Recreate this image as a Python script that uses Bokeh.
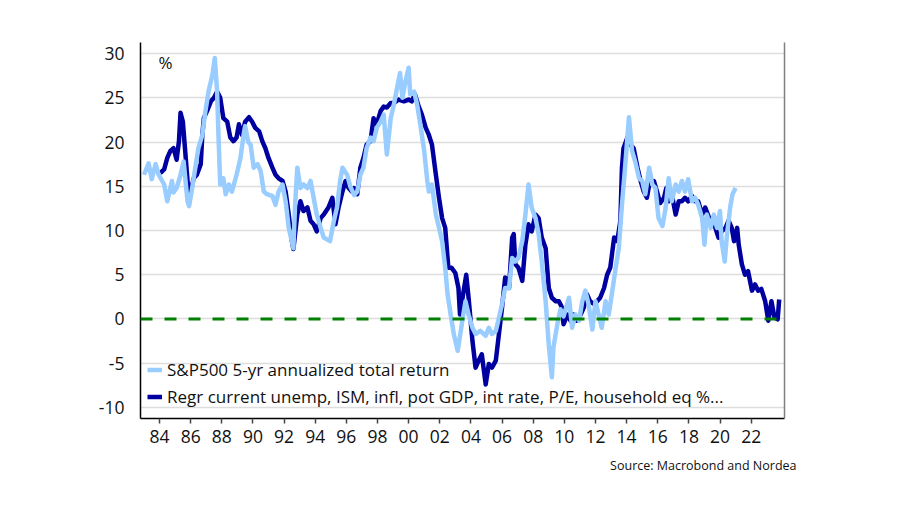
from bokeh.plotting import figure
from bokeh.models import (Range1d, FixedTicker, Span, Label, Legend, LegendItem,
                          LinearAxis, ColumnDataSource, Title)
from bokeh.embed import file_html
from bokeh.resources import INLINE

# ---------------- data ----------------
sp_x = [1983.0, 1983.3, 1983.5, 1983.75, 1983.95, 1984.3, 1984.5, 1984.8, 1984.9, 1985.1,
        1985.35, 1985.55, 1985.8, 1985.9, 1986.1, 1986.3, 1986.5, 1986.75, 1986.95, 1987.15,
        1987.4, 1987.55, 1987.7, 1987.8, 1987.9, 1988.1, 1988.25, 1988.45, 1988.65, 1988.95,
        1989.2, 1989.4, 1989.5, 1989.7, 1989.85, 1990.05, 1990.3, 1990.5, 1990.7, 1990.9,
        1991.25, 1991.45, 1991.65, 1991.9, 1992.1, 1992.3, 1992.6, 1992.7, 1992.85, 1993.05,
        1993.25, 1993.5, 1993.7, 1993.9, 1994.1, 1994.35, 1994.55, 1994.75, 1994.95, 1995.2,
        1995.4, 1995.6, 1995.75, 1996.05, 1996.25, 1996.5, 1996.7, 1996.9, 1997.1, 1997.3,
        1997.55, 1997.75, 1997.95, 1998.2, 1998.4, 1998.6, 1998.85, 1999.05, 1999.3, 1999.45,
        1999.6, 1999.8, 2000.0, 2000.1, 2000.35, 2000.55, 2000.75, 2001.0, 2001.2, 2001.3,
        2001.5, 2001.75, 2001.95, 2002.15, 2002.35, 2002.5, 2002.7, 2002.9, 2003.15, 2003.45,
        2003.65, 2003.85, 2004.1, 2004.3, 2004.6, 2004.95, 2005.15, 2005.35, 2005.6, 2005.8,
        2006.0, 2006.2, 2006.45, 2006.65, 2006.85, 2007.05, 2007.3, 2007.5, 2007.7, 2007.9,
        2008.15, 2008.35, 2008.55, 2008.8, 2009.0, 2009.2, 2009.3, 2009.55, 2009.75, 2009.95,
        2010.3, 2010.5, 2010.7, 2010.95, 2011.15, 2011.35, 2011.55, 2011.8, 2012.0, 2012.2,
        2012.4, 2012.65, 2012.85, 2013.05, 2013.3, 2013.5, 2013.7, 2013.9, 2014.15, 2014.35,
        2014.55, 2014.8, 2015.0, 2015.2, 2015.45, 2015.65, 2015.85, 2016.05, 2016.3, 2016.5,
        2016.7, 2016.9, 2017.15, 2017.35, 2017.55, 2017.75, 2017.95, 2018.2, 2018.4, 2018.6,
        2018.85, 2019.0, 2019.15, 2019.4, 2019.6, 2019.8, 2020.0, 2020.1, 2020.3, 2020.45,
        2020.65, 2020.8, 2021.0]
sp_y = [16.3, 17.6, 15.8, 17.5, 16.3, 15.2, 13.3, 15.6, 14.3, 14.8,
        16.3, 17.8, 13.3, 12.75, 14.8, 17.1, 19.3, 20.8, 23.5, 25.7,
        27.6, 29.5, 25.7, 20.1, 15.2, 15.9, 14.1, 15.2, 14.4, 16.3,
        18.2, 20.8, 21.8, 20.0, 19.7, 17.1, 17.5, 16.7, 14.4, 14.1,
        13.9, 12.9, 14.4, 15.2, 13.3, 10.3, 8.0, 12.6, 17.1, 14.8,
        15.2, 14.8, 15.6, 13.7, 11.8, 10.3, 9.2, 9.0, 8.8, 11.1,
        12.6, 15.6, 17.1, 16.3, 15.0, 14.0, 14.4, 16.3, 17.1, 19.3,
        20.5, 20.1, 21.6, 22.3, 23.1, 18.6, 22.7, 24.2, 26.5, 27.8,
        25.0, 26.9, 28.4, 25.4, 25.7, 24.2, 22.0, 19.0, 15.6, 14.4,
        15.2, 11.8, 10.3, 8.8, 5.8, 2.8, 0.5, -1.7, -3.6, -0.2,
        2.0, 0.5, -1.0, -1.7, -1.35, -1.9, -1.0, -1.7, -1.35, 0.15,
        1.7, 3.5, 3.5, 6.9, 6.5, 6.9, 8.8, 11.8, 15.2, 12.6,
        11.4, 9.6, 6.5, 2.0, -2.9, -6.6, -3.2, -0.6, 1.1, 0.3,
        2.4, -1.0, 0.5, -0.2, 2.0, 3.2, 1.7, -1.2, 2.0, 0.5,
        -1.0, 2.0, 0.5, 2.8, 5.8, 8.0, 12.9, 17.1, 22.8, 19.0,
        17.8, 15.9, 15.6, 14.1, 17.1, 15.2, 14.8, 11.4, 10.5, 12.5,
        15.9, 13.3, 15.2, 14.4, 15.6, 14.4, 15.8, 13.3, 13.7, 12.9,
        11.4, 8.4, 11.8, 10.3, 11.8, 10.3, 12.2, 8.8, 6.5, 9.6,
        12.6, 14.1, 14.8]

regr_x = [1984.05, 1984.3, 1984.5, 1984.7, 1984.9, 1985.1, 1985.25, 1985.35, 1985.5, 1985.65,
          1985.8, 1985.9, 1986.1, 1986.2, 1986.4, 1986.65, 1986.75, 1986.85, 1987.05, 1987.3,
          1987.5, 1987.7, 1987.9, 1988.1, 1988.35, 1988.55, 1988.75, 1988.95, 1989.1, 1989.3,
          1989.5, 1989.75, 1989.95, 1990.15, 1990.4, 1990.6, 1990.8, 1991.0, 1991.25, 1991.45,
          1991.65, 1991.9, 1992.1, 1992.3, 1992.5, 1992.6, 1992.85, 1993.05, 1993.25, 1993.5,
          1993.7, 1993.9, 1994.1, 1994.35, 1994.55, 1994.85, 1995.1, 1995.3, 1995.5, 1995.75,
          1995.95, 1996.15, 1996.35, 1996.5, 1996.7, 1996.9, 1997.1, 1997.3, 1997.55, 1997.75,
          1997.95, 1998.2, 1998.4, 1998.6, 1998.85, 1999.05, 1999.35, 1999.7, 2000.0, 2000.2,
          2000.4, 2000.65, 2000.85, 2001.1, 2001.3, 2001.5, 2001.75, 2001.95, 2002.15, 2002.35,
          2002.55, 2002.75, 2003.0, 2003.2, 2003.3, 2003.5, 2003.7, 2003.85, 2004.1, 2004.3,
          2004.5, 2004.7, 2004.95, 2005.15, 2005.35, 2005.6, 2005.8, 2006.0, 2006.2, 2006.45,
          2006.65, 2006.75, 2006.85, 2007.05, 2007.3, 2007.5, 2007.7, 2007.9, 2008.15, 2008.35,
          2008.55, 2008.8, 2009.0, 2009.2, 2009.45, 2009.65, 2009.85, 2009.95, 2010.2, 2010.4,
          2010.6, 2010.8, 2011.05, 2011.25, 2011.45, 2011.65, 2011.9, 2012.1, 2012.3, 2012.55,
          2012.75, 2012.95, 2013.2, 2013.4, 2013.6, 2013.7, 2013.8, 2014.05, 2014.25, 2014.45,
          2014.7, 2014.9, 2015.1, 2015.3, 2015.5, 2015.75, 2015.95, 2016.15, 2016.4, 2016.55,
          2016.7, 2016.9, 2017.15, 2017.35, 2017.55, 2017.75, 2017.95, 2018.2, 2018.4, 2018.6,
          2018.85, 2019.05, 2019.3, 2019.5, 2019.7, 2019.9, 2020.1, 2020.35, 2020.55, 2020.75,
          2020.9, 2021.1, 2021.2, 2021.4, 2021.6, 2021.8, 2022.05, 2022.25, 2022.45, 2022.65,
          2022.9, 2023.1, 2023.3, 2023.5, 2023.7, 2023.8]
regr_y = [16.5, 16.9, 18.2, 19.0, 19.3, 18.0, 20.1, 23.3, 22.3, 19.0,
          15.6, 13.7, 15.2, 15.9, 16.3, 17.5, 20.8, 22.7, 23.5, 24.6,
          25.0, 25.7, 25.0, 22.7, 22.3, 20.5, 20.1, 20.5, 22.0, 20.8,
          22.3, 22.8, 22.3, 21.6, 21.2, 20.1, 19.3, 18.2, 17.1, 16.3,
          15.9, 15.6, 14.4, 11.8, 8.8, 7.9, 11.8, 13.3, 12.2, 12.6,
          11.1, 10.7, 9.9, 11.4, 11.8, 12.6, 13.7, 10.7, 12.6, 14.4,
          15.6, 14.8, 14.4, 14.8, 14.1, 17.1, 18.2, 19.7, 20.1, 22.7,
          22.0, 23.5, 24.0, 23.9, 24.4, 24.4, 24.8, 24.6, 24.8, 24.6,
          25.4, 24.0, 23.1, 21.6, 20.8, 19.7, 16.3, 13.7, 11.4, 10.3,
          5.8, 5.8, 5.2, 3.5, 0.5, 2.8, 5.0, 2.4, -2.5, -5.5,
          -4.7, -4.0, -7.4, -5.1, -5.5, -4.7, -1.7, 1.3, 4.7, 3.5,
          9.2, 9.6, 6.2, 5.8, 4.3, 8.4, 10.7, 9.9, 11.8, 11.4,
          9.2, 8.0, 3.5, 2.4, 2.0, 2.0, 1.3, -0.6, 0.5, -0.2,
          0.5, -0.2, 0.5, 1.3, 2.8, 2.0, 1.7, 2.0, 2.4, 3.5,
          5.0, 5.8, 9.2, 8.8, 11.1, 17.1, 19.3, 20.5, 19.7, 19.3,
          17.1, 15.6, 14.4, 13.7, 15.6, 15.6, 14.4, 13.1, 13.7, 14.8,
          13.3, 14.1, 11.8, 13.3, 13.3, 13.7, 13.3, 13.9, 13.3, 13.3,
          11.8, 12.6, 11.4, 11.1, 10.3, 9.2, 9.9, 10.3, 11.1, 10.3,
          8.8, 10.3, 8.4, 6.2, 5.0, 5.4, 3.2, 3.9, 3.2, 3.4,
          2.0, -0.2, 2.0, 0.15, -0.05, 2.2]

x_ticks = [1984, 1986, 1988, 1990, 1992, 1994, 1996, 1998, 2000, 2002,
           2004, 2006, 2008, 2010, 2012, 2014, 2016, 2018, 2020, 2022]
x_tick_labels = ["84", "86", "88", "90", "92", "94", "96", "98", "00", "02",
                 "04", "06", "08", "10", "12", "14", "16", "18", "20", "22"]
y_ticks = [-10, -5, 0, 5, 10, 15, 20, 25, 30]
y_tick_labels = ["-10", "-5", "0", "5", "10", "15", "20", "25", "30"]

sp_label = "S&P500 5-yr annualized total return"
regr_label = "Regr current unemp, ISM, infl, pot GDP, int rate, P/E, household eq %..."
source_text = "Source: Macrobond and Nordea"

LIGHT = "#99ccff"
DARK = "#0000a0"
FONT = "Open Sans"
TXT = "#111111"

p = figure(width=896, height=503,
           x_range=Range1d(1982.78, 2024.14), y_range=Range1d(-11.25, 31.25),
           output_backend="svg", toolbar_location=None,
           min_border_left=140, min_border_right=112, min_border_top=42, min_border_bottom=85,
           outline_line_color=None, background_fill_color="white", border_fill_color="white")

# axes
p.xaxis.ticker = FixedTicker(ticks=x_ticks)
p.xaxis.major_label_overrides = {t: l for t, l in zip(x_ticks, x_tick_labels)}
p.xaxis.minor_tick_line_color = None
p.xaxis.major_tick_out = 5
p.xaxis.major_tick_in = 0
p.xaxis.major_tick_line_color = "#444444"
p.xaxis.major_tick_line_width = 1.5
p.xaxis.axis_line_color = "black"
p.xaxis.axis_line_width = 1.5
p.xaxis.major_label_standoff = 6

p.yaxis.ticker = FixedTicker(ticks=y_ticks)
p.yaxis.major_label_overrides = {t: l for t, l in zip(y_ticks, y_tick_labels)}
p.yaxis.minor_tick_line_color = None
p.yaxis.major_tick_line_color = None
p.yaxis.axis_line_color = "black"
p.yaxis.axis_line_width = 1.5
p.yaxis.major_label_standoff = 10

for ax in (p.xaxis, p.yaxis):
    ax.major_label_text_font = FONT
    ax.major_label_text_font_size = "17.5px"
    ax.major_label_text_color = TXT

right = LinearAxis(axis_line_color="#808080", axis_line_width=1.5,
                   ticker=FixedTicker(ticks=[]),
                   major_tick_line_color=None, minor_tick_line_color=None)
p.add_layout(right, "right")

p.xgrid.visible = False
p.ygrid.ticker = FixedTicker(ticks=y_ticks)
p.ygrid.grid_line_color = "#dddddd"
p.ygrid.grid_line_width = 1.5

# lines
regr_src = ColumnDataSource(dict(x=regr_x, y=regr_y))
sp_src = ColumnDataSource(dict(x=sp_x, y=sp_y))
r_regr = p.line("x", "y", source=regr_src, line_color=DARK, line_width=4.5, line_join="round")
r_sp = p.line("x", "y", source=sp_src, line_color=LIGHT, line_width=4.5, line_join="round")

zero = Span(location=0, dimension="width", line_color="#008000", line_width=3, line_dash="12 12")
p.add_layout(zero)

legend = Legend(items=[LegendItem(label=sp_label, renderers=[r_sp]),
                       LegendItem(label=regr_label, renderers=[r_regr])],
                location=(7, 10), padding=0, margin=0, spacing=4,
                glyph_width=15, glyph_height=23, label_height=23, label_standoff=5,
                background_fill_alpha=0, border_line_color=None,
                label_text_font=FONT, label_text_font_size="17px", label_text_color=TXT)
p.add_layout(legend, "center")

p.add_layout(Label(x=1984.39, y=29.0, text="%", text_align="center", text_baseline="middle",
                   text_font=FONT, text_font_size="17px", text_color=TXT))

src_title = Title(text=source_text, align="right", offset=-12, standoff=20,
                  vertical_align="middle", text_font=FONT, text_font_size="12.5px",
                  text_font_style="normal", text_color=TXT)
p.add_layout(src_title, "below")

open("out.html", "w").write(file_html(p, INLINE))
